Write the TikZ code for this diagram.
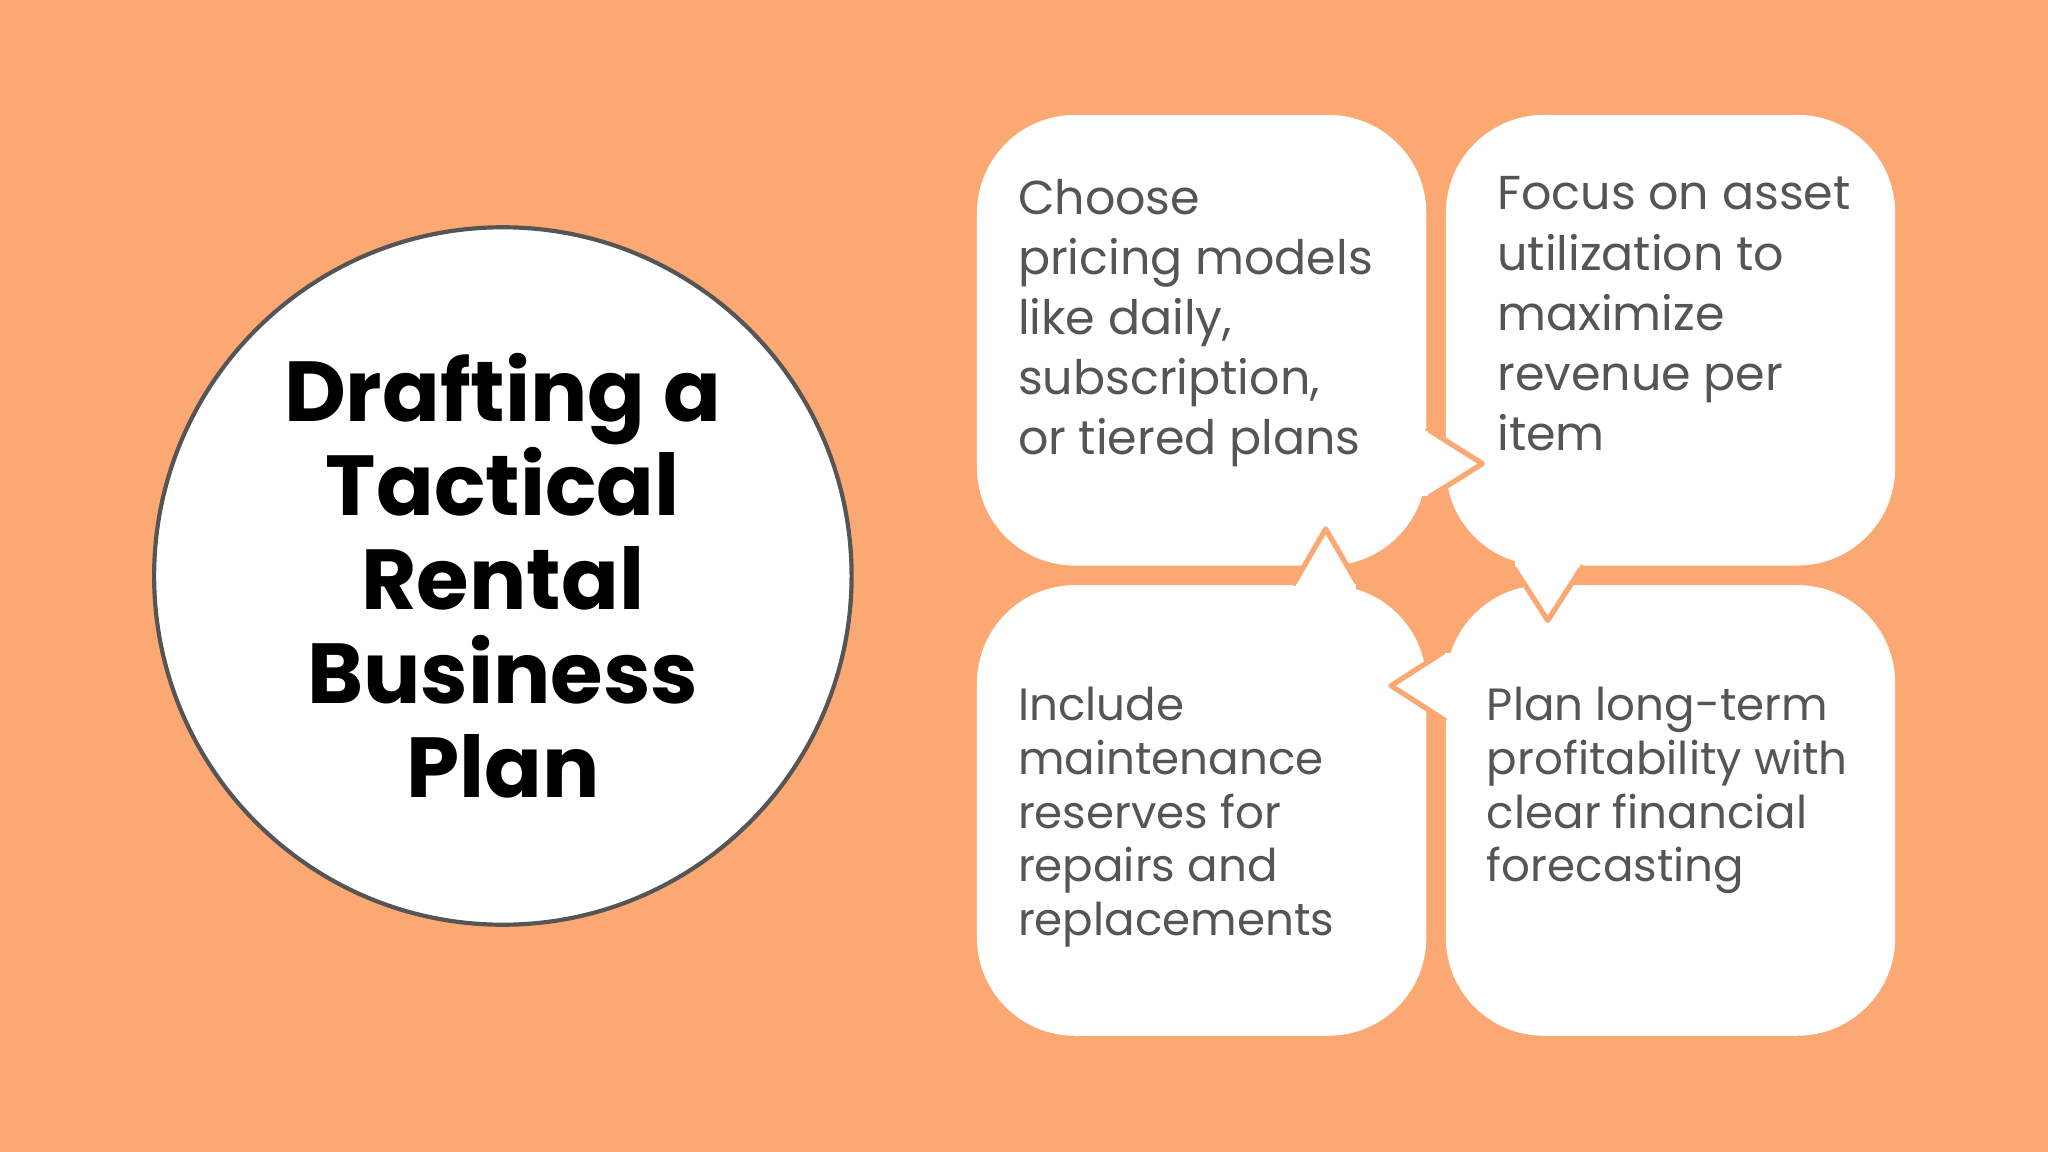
\documentclass[tikz,border=0pt]{standalone}
\usepackage{fontspec}
\setmainfont{Poppins}
\definecolor{bgorange}{HTML}{FCA872}
\definecolor{ringgray}{HTML}{555555}
\definecolor{textgray}{HTML}{555555}
\tikzset{
  bubble/.style={fill=white, rounded corners=75*0.5pt},
  tail/.style={fill=white, draw=bgorange, line width=2pt, line join=round},
  boxtext/.style={anchor=north west, align=left, text=textgray, inner sep=0pt,
    font=\fontsize{18.2}{23}\selectfont},
  lowtext/.style={boxtext, font=\fontsize{17.3}{20.5}\selectfont}
}
\begin{document}
\begin{tikzpicture}[x=0.5pt,y=-0.5pt]
    \fill[bgorange] (0,0) rectangle (1568,882);
    \useasboundingbox (0,0) rectangle (1568,882);

    % title circle
    \node[circle, draw=ringgray, line width=1.6pt, fill=white, minimum size=534*0.5pt,
      align=center, font=\fontsize{32.6}{36}\selectfont\bfseries] (title) at (385,441)
      {Drafting a\\Tactical\\Rental\\Business\\Plan};

    % bubbles
    \fill[bubble] (748,88) rectangle (1092,433);
    \fill[bubble] (1107,88) rectangle (1451,433);
    \fill[bubble] (748,448) rectangle (1092,793);
    \fill[bubble] (1107,448) rectangle (1451,793);

    % tails
    \filldraw[tail] (1092,328) -- (1135,355) -- (1092,382);
    \fill[white] (1070,330) rectangle (1093,380);
    \filldraw[tail] (1158,433) -- (1185,475) -- (1212,433);
    \fill[white] (1160,410) rectangle (1210,434);
    \filldraw[tail] (990,448) -- (1015,405) -- (1040,448);
    \fill[white] (992,447) rectangle (1038,470);
    \filldraw[tail] (1107,498) -- (1065,525) -- (1107,552);
    \fill[white] (1106,500) rectangle (1130,550);

    % texts
    \node[boxtext] (price) at (779,137)
      {Choose\\pricing models\\like daily,\\subscription,\\or tiered plans};
    \node[boxtext] (asset) at (1146,135)
      {Focus on asset\\utilization to\\maximize\\revenue per\\item};
    \node[lowtext] (maint) at (779,526)
      {Include\\maintenance\\reserves for\\repairs and\\replacements};
    \node[lowtext] (profit) at (1138,526)
      {Plan long-term\\profitability with\\clear financial\\forecasting};
\end{tikzpicture}
\end{document}
